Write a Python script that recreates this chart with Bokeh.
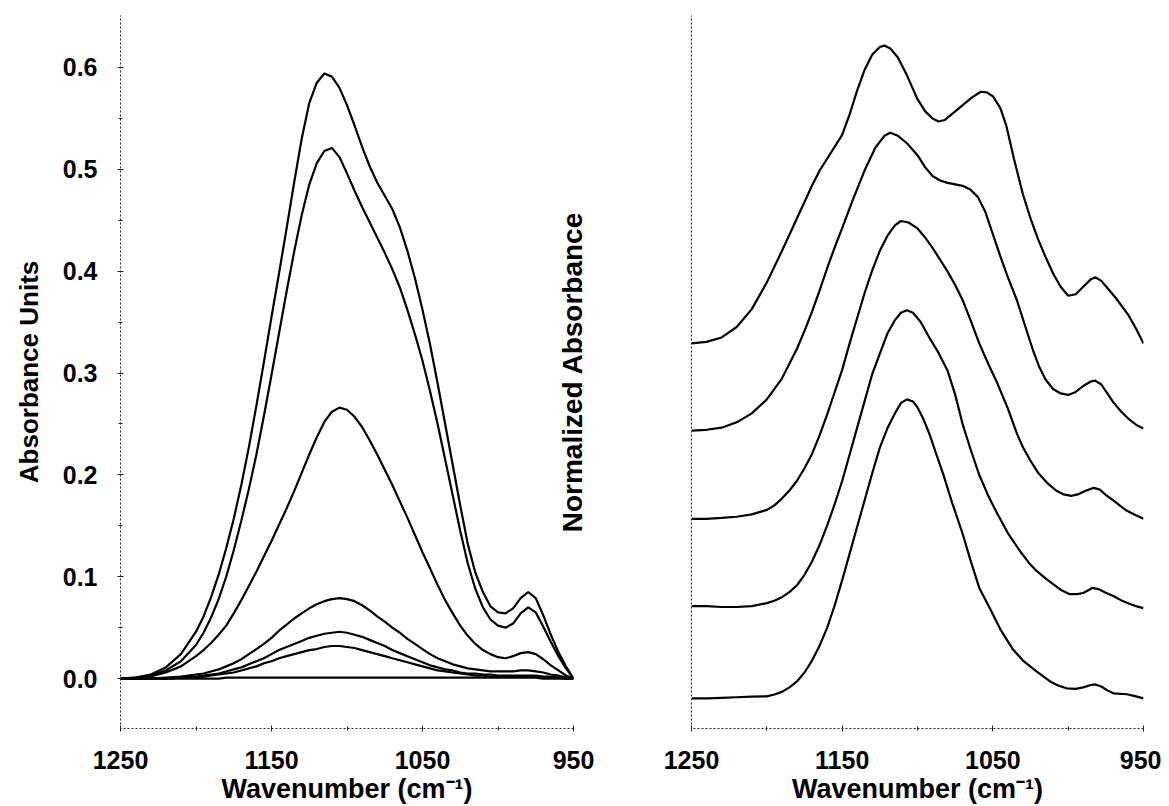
from bokeh.plotting import figure
from bokeh.layouts import row
from bokeh.models import Range1d, FixedTicker
from bokeh.embed import file_html
from bokeh.resources import INLINE

# ---------------- data: left panel (absorbance units) ----------------
WN_L = [1250, 1240, 1230, 1220, 1210] + list(range(1200, 949, -5))

ABS_1 = [0.000, 0.001, 0.004, 0.011, 0.024,
         0.046, 0.061, 0.080, 0.102, 0.128, 0.157, 0.190, 0.227, 0.268, 0.311,
         0.355, 0.398, 0.442, 0.487, 0.530, 0.565, 0.585, 0.594, 0.591, 0.580,
         0.563, 0.543, 0.522, 0.503, 0.487, 0.474, 0.461, 0.443, 0.420, 0.393,
         0.362, 0.328, 0.290, 0.250, 0.210, 0.170, 0.132, 0.104, 0.085, 0.071,
         0.065, 0.064, 0.069, 0.079, 0.085, 0.079, 0.062, 0.043, 0.026, 0.012,
         0.000]
ABS_2 = [0.000, 0.001, 0.003, 0.008, 0.017,
         0.033, 0.045, 0.060, 0.078, 0.100, 0.126, 0.155, 0.186, 0.220, 0.258,
         0.298, 0.339, 0.380, 0.419, 0.455, 0.485, 0.506, 0.518, 0.521, 0.512,
         0.496, 0.479, 0.463, 0.448, 0.433, 0.418, 0.402, 0.384, 0.362, 0.338,
         0.312, 0.282, 0.250, 0.215, 0.180, 0.145, 0.113, 0.088, 0.070, 0.058,
         0.052, 0.050, 0.054, 0.064, 0.070, 0.065, 0.051, 0.036, 0.022, 0.010,
         0.000]
ABS_3 = [0.000, 0.000, 0.002, 0.006, 0.012,
         0.022, 0.028, 0.035, 0.043, 0.052, 0.064, 0.077, 0.091, 0.105, 0.120,
         0.135, 0.151, 0.167, 0.184, 0.202, 0.220, 0.237, 0.252, 0.262, 0.266,
         0.264, 0.257, 0.247, 0.234, 0.220, 0.205, 0.190, 0.174, 0.158, 0.141,
         0.124, 0.108, 0.092, 0.077, 0.064, 0.052, 0.042, 0.034, 0.028, 0.024,
         0.021, 0.020, 0.022, 0.025, 0.026, 0.024, 0.019, 0.013, 0.008, 0.003,
         0.000]
ABS_4 = [0.000, 0.000, 0.000, 0.001, 0.002,
         0.004, 0.005, 0.007, 0.009, 0.012, 0.015, 0.019, 0.024, 0.029, 0.034,
         0.040, 0.047, 0.053, 0.059, 0.064, 0.069, 0.073, 0.076, 0.078, 0.079,
         0.078, 0.076, 0.072, 0.067, 0.061, 0.056, 0.050, 0.045, 0.039, 0.034,
         0.029, 0.024, 0.020, 0.017, 0.014, 0.012, 0.010, 0.009, 0.008, 0.007,
         0.007, 0.007, 0.007, 0.008, 0.008, 0.007, 0.006, 0.004, 0.003, 0.001,
         0.000]
ABS_5 = [0.000, 0.000, 0.000, 0.000, 0.001,
         0.002, 0.003, 0.004, 0.005, 0.007, 0.009, 0.011, 0.014, 0.017, 0.020,
         0.024, 0.028, 0.031, 0.034, 0.037, 0.040, 0.042, 0.044, 0.045, 0.046,
         0.045, 0.043, 0.041, 0.038, 0.035, 0.032, 0.028, 0.025, 0.022, 0.019,
         0.016, 0.013, 0.011, 0.009, 0.008, 0.006, 0.005, 0.005, 0.004, 0.004,
         0.003, 0.003, 0.003, 0.003, 0.003, 0.003, 0.002, 0.002, 0.001, 0.001,
         0.000]
ABS_6 = [0.000, 0.000, 0.000, 0.000, 0.001,
         0.001, 0.002, 0.003, 0.004, 0.005, 0.006, 0.008, 0.010, 0.012, 0.015,
         0.017, 0.020, 0.022, 0.024, 0.026, 0.028, 0.029, 0.031, 0.032, 0.032,
         0.031, 0.030, 0.028, 0.026, 0.024, 0.022, 0.020, 0.018, 0.016, 0.014,
         0.012, 0.010, 0.008, 0.007, 0.006, 0.005, 0.004, 0.003, 0.003, 0.002,
         0.002, 0.002, 0.002, 0.002, 0.002, 0.002, 0.001, 0.001, 0.001, 0.000,
         0.000]
ABS_7 = [0.000, 0.000, 0.000, 0.000, 0.000,
         0.000, 0.000, 0.000, 0.000, 0.001, 0.001, 0.001, 0.001, 0.001, 0.001,
         0.001, 0.001, 0.001, 0.001, 0.001, 0.001, 0.001, 0.001, 0.001, 0.001,
         0.001, 0.001, 0.001, 0.001, 0.001, 0.001, 0.001, 0.001, 0.001, 0.001,
         0.001, 0.001, 0.001, 0.001, 0.001, 0.001, 0.001, 0.001, 0.001, 0.001,
         0.001, 0.001, 0.001, 0.001, 0.001, 0.001, 0.000, 0.000, 0.000, 0.000,
         0.000]
LEFT_SERIES = [ABS_1, ABS_2, ABS_3, ABS_4, ABS_5, ABS_6, ABS_7]

Y_TICKS_L = [0.0, 0.1, 0.2, 0.3, 0.4, 0.5, 0.6]
Y_TICK_LABELS_L = ["0.0", "0.1", "0.2", "0.3", "0.4", "0.5", "0.6"]
Y_MINOR_L = [-0.05, 0.05, 0.15, 0.25, 0.35, 0.45, 0.55]
X_TICKS = [1250, 1150, 1050, 950]
X_MINOR = [1200, 1100, 1000]

# ---------------- data: right panel (normalized, stacked) ----------------
WN_R1 = [1250, 1240, 1230, 1220, 1210, 1200, 1190, 1185, 1180, 1175,
         1170, 1165, 1160, 1155, 1150, 1145, 1140, 1135, 1130, 1125,
         1122, 1118, 1113, 1107, 1100, 1095, 1090, 1086, 1082, 1076,
         1070, 1064, 1058, 1054, 1050, 1045, 1041, 1036, 1030, 1025,
         1020, 1015, 1010, 1005, 1000, 995, 990, 985, 982, 978,
         973, 968, 960, 955, 950]
NORM_1 = [0.0, 0.005, 0.02, 0.055, 0.115, 0.205, 0.31, 0.365, 0.42, 0.475,
          0.53, 0.58, 0.62, 0.66, 0.70, 0.77, 0.85, 0.92, 0.97, 0.995,
          1.0, 0.99, 0.96, 0.90, 0.82, 0.78, 0.755, 0.745, 0.75, 0.775,
          0.80, 0.825, 0.845, 0.843, 0.83, 0.79, 0.73, 0.62, 0.50, 0.42,
          0.35, 0.29, 0.235, 0.19, 0.16, 0.165, 0.19, 0.215, 0.222, 0.21,
          0.18, 0.15, 0.095, 0.05, 0.0]

WN_R2 = [1250, 1240, 1230, 1220, 1210, 1200, 1190, 1180, 1175, 1170,
         1165, 1160, 1155, 1150, 1143, 1135, 1128, 1122, 1118, 1113,
         1107, 1100, 1095, 1090, 1085, 1080, 1070, 1065, 1060, 1055,
         1050, 1045, 1040, 1034, 1027, 1023, 1019, 1015, 1010, 1005,
         1000, 995, 990, 985, 982, 978, 974, 970, 965, 960,
         955, 950]
NORM_2 = [0.0, 0.003, 0.01, 0.028, 0.058, 0.105, 0.175, 0.275, 0.335, 0.40,
          0.47, 0.545, 0.615, 0.68, 0.774, 0.875, 0.95, 0.99, 1.0, 0.99,
          0.965, 0.925, 0.885, 0.855, 0.84, 0.832, 0.822, 0.81, 0.785, 0.735,
          0.66, 0.585, 0.515, 0.438, 0.327, 0.265, 0.212, 0.172, 0.14, 0.125,
          0.12, 0.13, 0.15, 0.165, 0.168, 0.155, 0.125, 0.095, 0.065, 0.04,
          0.02, 0.007]

WN_R3 = [1250, 1240, 1230, 1220, 1210, 1200, 1195, 1190, 1185, 1180,
         1175, 1170, 1165, 1160, 1155, 1150, 1145, 1140, 1135, 1130,
         1125, 1120, 1115, 1111, 1106, 1100, 1095, 1090, 1085, 1080,
         1075, 1070, 1065, 1059, 1053, 1047, 1040, 1034, 1030, 1025,
         1020, 1014, 1008, 1003, 998, 993, 988, 983, 979, 975,
         970, 965, 961, 955, 950]
NORM_3 = [0.0, 0.0, 0.003, 0.007, 0.015, 0.03, 0.045, 0.068, 0.095, 0.128,
          0.17, 0.218, 0.28, 0.35, 0.425, 0.50, 0.59, 0.675, 0.76, 0.835,
          0.90, 0.95, 0.985, 1.0, 0.995, 0.975, 0.945, 0.91, 0.87, 0.83,
          0.785, 0.734, 0.67, 0.589, 0.52, 0.455, 0.37, 0.286, 0.24, 0.195,
          0.155, 0.121, 0.095, 0.082, 0.077, 0.083, 0.095, 0.104, 0.098, 0.08,
          0.062, 0.042, 0.027, 0.012, 0.0]

WN_R4 = [1250, 1240, 1230, 1220, 1210, 1200, 1195, 1190, 1185, 1180,
         1175, 1170, 1165, 1160, 1155, 1150, 1145, 1140, 1135, 1130,
         1125, 1120, 1115, 1111, 1107, 1103, 1098, 1092, 1086, 1080,
         1075, 1070, 1065, 1059, 1053, 1047, 1040, 1032, 1026, 1021,
         1015, 1010, 1005, 999, 994, 990, 986, 984, 980, 975,
         970, 965, 959, 955, 950]
NORM_4 = [0.0, 0.0, -0.003, -0.003, 0.0, 0.01, 0.018, 0.03, 0.047, 0.07,
          0.105, 0.15, 0.205, 0.27, 0.342, 0.42, 0.51, 0.60, 0.69, 0.78,
          0.848, 0.915, 0.96, 0.985, 0.993, 0.985, 0.955, 0.90, 0.85, 0.79,
          0.71, 0.61, 0.53, 0.44, 0.37, 0.31, 0.245, 0.185, 0.145, 0.118,
          0.093, 0.074, 0.055, 0.04, 0.04, 0.044, 0.055, 0.061, 0.057, 0.045,
          0.034, 0.02, 0.007, 0.0, -0.007]

WN_R5 = [1250, 1240, 1230, 1220, 1210, 1200, 1195, 1190, 1185, 1180,
         1175, 1170, 1165, 1160, 1155, 1150, 1145, 1140, 1135, 1130,
         1125, 1120, 1115, 1111, 1107, 1103, 1100, 1096, 1092, 1088,
         1083, 1077, 1070, 1065, 1059, 1052, 1045, 1037, 1030, 1021,
         1012, 1006, 1001, 995, 990, 985, 982, 978, 974, 970,
         961, 955, 950]
NORM_5 = [-0.007, -0.007, -0.005, -0.003, -0.001, 0.0, 0.006, 0.015, 0.03, 0.05,
          0.08, 0.12, 0.17, 0.23, 0.305, 0.39, 0.48, 0.57, 0.66, 0.75,
          0.835, 0.90, 0.95, 0.985, 0.997, 0.99, 0.97, 0.93, 0.88, 0.82,
          0.747, 0.65, 0.545, 0.46, 0.364, 0.296, 0.225, 0.16, 0.12, 0.084,
          0.05, 0.035, 0.027, 0.025, 0.03, 0.038, 0.04, 0.033, 0.02, 0.01,
          0.007, 0.0, -0.007]

RIGHT_WN = [WN_R1, WN_R2, WN_R3, WN_R4, WN_R5]
RIGHT_SERIES = [NORM_1, NORM_2, NORM_3, NORM_4, NORM_5]
STACK_OFFSETS = [1.185, 0.892, 0.596, 0.303, 0.0]

# ---------------- styling ----------------
FONT = "Liberation Sans"
TICK_FONT_SIZE = "25px"
XLABEL_SIZE = "27px"
H = 806


def style_axis(ax):
    ax.axis_line_color = "#222222"
    ax.axis_line_dash = "2 2"
    ax.axis_line_width = 1
    ax.major_tick_line_color = "#222222"
    ax.minor_tick_line_color = "#222222"
    ax.major_tick_in = 3
    ax.major_tick_out = 3
    ax.minor_tick_in = 2
    ax.minor_tick_out = 2
    ax.major_label_text_font = FONT
    ax.major_label_text_font_style = "bold"
    ax.major_label_text_font_size = TICK_FONT_SIZE
    ax.major_label_text_color = "black"
    ax.axis_label_text_font = FONT
    ax.axis_label_text_font_style = "bold"
    ax.axis_label_text_color = "black"


# ---------------- left figure ----------------
p1 = figure(width=608, height=H, output_backend="svg", toolbar_location=None,
            x_range=Range1d(1250, 950), y_range=Range1d(-0.049, 0.651),
            min_border_left=120, min_border_right=35, min_border_top=15, min_border_bottom=77)
p1.outline_line_color = None
p1.grid.visible = False
for ys in LEFT_SERIES:
    p1.line(WN_L, ys, line_color="black", line_width=2.2)

xa = p1.xaxis[0]
style_axis(xa)
xa.ticker = FixedTicker(ticks=X_TICKS, minor_ticks=X_MINOR)
xa.axis_label = "Wavenumber (cm\u207b\u00b9)"
xa.axis_label_text_font_size = XLABEL_SIZE
xa.major_label_standoff = 19
xa.axis_label_standoff = 2

ya = p1.yaxis[0]
style_axis(ya)
ya.ticker = FixedTicker(ticks=Y_TICKS_L, minor_ticks=Y_MINOR_L)
ya.major_label_overrides = {t: s for t, s in zip(Y_TICKS_L, Y_TICK_LABELS_L)}
ya.axis_label = "Absorbance Units"
ya.axis_label_text_font_size = "26px"
ya.major_label_standoff = 20
ya.axis_label_standoff = 16

# ---------------- right figure ----------------
p2 = figure(width=613, height=H, output_backend="svg", toolbar_location=None,
            x_range=Range1d(1250, 950), y_range=Range1d(-0.108, 2.286),
            min_border_left=143, min_border_right=18, min_border_top=15, min_border_bottom=77)
p2.margin = (0, 0, 0, -60)
p2.outline_line_color = None
p2.border_fill_color = None
p2.background_fill_color = None
p2.grid.visible = False
for wn, ys, off in zip(RIGHT_WN, RIGHT_SERIES, STACK_OFFSETS):
    p2.line(wn, [v + off for v in ys], line_color="black", line_width=2.2)

xb = p2.xaxis[0]
style_axis(xb)
xb.ticker = FixedTicker(ticks=X_TICKS, minor_ticks=X_MINOR)
xb.axis_label = "Wavenumber (cm\u207b\u00b9)"
xb.axis_label_text_font_size = XLABEL_SIZE
xb.major_label_standoff = 19
xb.axis_label_standoff = 2

yb = p2.yaxis[0]
style_axis(yb)
yb.ticker = FixedTicker(ticks=[], minor_ticks=[])
yb.axis_label = "Normalized Absorbance"
yb.axis_label_text_font_size = "28px"
yb.axis_label_standoff = 104

layout = row(p1, p2)
open("out.html", "w").write(file_html(layout, INLINE))
